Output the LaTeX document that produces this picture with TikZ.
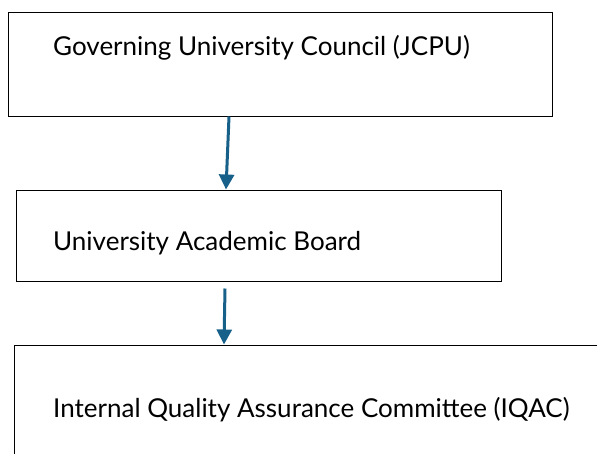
\documentclass[tikz,border=0pt]{standalone}
\usepackage{fontspec}
\setmainfont{Lato}
\usetikzlibrary{arrows.meta}
\definecolor{flowblue}{RGB}{23,96,137}

\begin{document}
\begin{tikzpicture}[x = 1pt, y = -1pt,
	box/.style = {draw, line width = 1pt, rectangle, inner sep = 0pt},
	label/.style = {anchor = west, inner sep = 0pt, font = \fontsize{26}{30}\selectfont},
	flow/.style = {flowblue, line width = 3pt, -{Triangle[width = 15pt, length = 15pt]}}]
	\useasboundingbox (0 ,0) rectangle (597 ,453);
	\node [box, minimum width = 544, minimum height = 104] (council) at (280 ,64) {};
	\node [box, minimum width = 485, minimum height = 91] (board) at (258.5 ,235.5) {};
	\node [box, minimum width = 600, minimum height = 130] (iqac) at (314 ,410) {};
	\node [label] (council text) at (53 ,48) {Governing University Council (JCPU)};
	\node [label] (board text) at (53 ,243) {University Academic Board};
	\node [label] (iqac text) at (53 ,410) {Internal Quality Assurance Committee (IQAC)};
	\draw [flow] ([xshift = -51]council.south) -- ([xshift = -32.5]board.north);
	\draw [flow] ([xshift = -33.5, yshift = -7]board.south) -- ([xshift = -90]iqac.north);
\end{tikzpicture}
\end{document}
